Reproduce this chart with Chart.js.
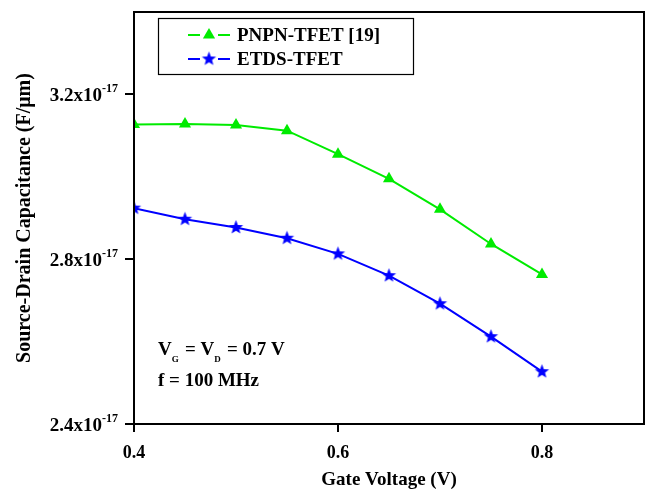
<!DOCTYPE html>
<html>
<head>
<meta charset="utf-8">
<script src="https://cdn.jsdelivr.net/npm/chart.js@4.4.0/dist/chart.umd.min.js"></script>
<style>
  html, body { margin: 0; padding: 0; background: #fff; overflow: hidden; }
  #wrap { width: 646px; height: 490px; }
  canvas { display: block; }
</style>
</head>
<body>
<div id="wrap"><canvas id="chart" width="646" height="490"></canvas></div>
<script>
// gate voltage (V)
const gateVoltage = [0.4, 0.45, 0.5, 0.55, 0.6, 0.65, 0.7, 0.75, 0.8];
// source-drain capacitance, in units of 1e-17 F/um
const pnpnValues = [3.127, 3.128, 3.126, 3.112, 3.055, 2.995, 2.921, 2.837, 2.763];
const etdsValues = [2.924, 2.897, 2.877, 2.851, 2.813, 2.760, 2.692, 2.612, 2.527];
const seriesLabels = ['PNPN-TFET [19]', 'ETDS-TFET'];
const xTicks = [0.4, 0.6, 0.8];
const yTicks = [2.4, 2.8, 3.2];
const yExponent = '-17';

const serif = '"Liberation Serif", "Times New Roman", serif';
const green = 'rgb(0,235,0)';
const blue = '#0000ff';

// filled five point star, Chart.js 'star' is only an asterisk
function makeStar(color) {
    const c = document.createElement('canvas');
    c.width = 17; c.height = 17;
    const g = c.getContext('2d');
    g.fillStyle = color;
    g.beginPath();
    for (let i = 0; i < 10; i++) {
        const r = i % 2 === 0 ? 7.5 : 3.2;
        const a = -Math.PI / 2 + i * Math.PI / 5;
        const px = 8.5 + r * Math.cos(a), py = 8.5 + r * Math.sin(a);
        if (i === 0) g.moveTo(px, py); else g.lineTo(px, py);
    }
    g.closePath();
    g.fill();
    return c;
}
const starImg = makeStar(blue);

const toPoints = vals => vals.map((v, i) => ({ x: gateVoltage[i], y: v }));

const framePlugin = {
    id: 'frame',
    afterDraw(chart) {
        const { ctx, chartArea: a, scales } = chart;
        ctx.save();
        ctx.strokeStyle = '#000';
        ctx.lineWidth = 2;
        ctx.strokeRect(a.left, a.top, a.right - a.left, a.bottom - a.top);

        // y tick labels with superscript exponent
        const y = scales.y;
        yTicks.forEach(v => {
            const py = y.getPixelForValue(v);
            ctx.font = 'bold 12px ' + serif;
            const supW = ctx.measureText(yExponent).width;
            const right = 118;
            ctx.fillStyle = '#000';
            ctx.textBaseline = 'alphabetic';
            ctx.textAlign = 'left';
            ctx.fillText(yExponent, right - supW, py - 2);
            ctx.font = 'bold 19px ' + serif;
            ctx.textAlign = 'right';
            ctx.fillText(v.toFixed(1) + 'x10', right - supW, py + 7);
        });

        // legend box
        ctx.lineWidth = 1.2;
        ctx.strokeRect(158.5, 18.5, 255, 56);
        chart.data.datasets.forEach((ds, i) => {
            const cy = 35 + i * 24;
            ctx.strokeStyle = ds.borderColor;
            ctx.lineWidth = 2;
            ctx.beginPath();
            ctx.moveTo(188, cy); ctx.lineTo(200, cy);
            ctx.moveTo(218, cy); ctx.lineTo(230, cy);
            ctx.stroke();
            if (ds.pointStyle === 'triangle') {
                ctx.fillStyle = ds.pointBackgroundColor;
                ctx.beginPath();
                ctx.moveTo(209, cy - 7);
                ctx.lineTo(209 + 6.1, cy + 3.5);
                ctx.lineTo(209 - 6.1, cy + 3.5);
                ctx.closePath();
                ctx.fill();
            } else {
                ctx.drawImage(starImg, 209 - 8.5, cy - 8.5);
            }
            ctx.fillStyle = '#000';
            ctx.font = 'bold 19px ' + serif;
            ctx.textAlign = 'left';
            ctx.textBaseline = 'middle';
            ctx.fillText(ds.label, 237, cy + 1);
        });

        // bias conditions
        ctx.textBaseline = 'alphabetic';
        ctx.textAlign = 'left';
        let x = 158;
        const big = 'bold 19px ' + serif, small = 'bold 9px ' + serif;
        const parts = [['V', big, 0], ['G', small, 7], [' = V', big, 0], ['D', small, 7], [' = 0.7 V', big, 0]];
        parts.forEach(([t, f, dy]) => {
            ctx.font = f;
            ctx.fillText(t, x, 355 + dy);
            x += ctx.measureText(t).width + (dy ? 1.5 : 0);
        });
        ctx.font = big;
        ctx.fillText('f = 100 MHz', 158, 386);
        ctx.restore();
    }
};

new Chart(document.getElementById('chart'), {
    type: 'line',
    data: {
        datasets: [{
            label: seriesLabels[0],
            data: toPoints(pnpnValues),
            borderColor: green,
            backgroundColor: green,
            pointBackgroundColor: green,
            pointBorderColor: green,
            pointStyle: 'triangle',
            pointRadius: 7,
            pointBorderWidth: 0,
            borderWidth: 2
        }, {
            label: seriesLabels[1],
            data: toPoints(etdsValues),
            borderColor: blue,
            backgroundColor: blue,
            pointBackgroundColor: blue,
            pointStyle: starImg,
            pointRadius: 7,
            borderWidth: 2
        }]
    },
    options: {
        responsive: false,
        animation: false,
        layout: { autoPadding: false, padding: { top: 12, right: 2, left: 0, bottom: 0 } },
        plugins: {
            legend: { display: false },
            tooltip: { enabled: false }
        },
        scales: {
            x: {
                type: 'linear',
                min: 0.4,
                max: 0.9,
                afterFit: s => { s.height = 66; s.paddingRight = 0; s.paddingLeft = 0; },
                afterBuildTicks: s => { s.ticks = xTicks.map(v => ({ value: v })); },
                grid: { drawOnChartArea: false, color: '#000', lineWidth: 2, tickLength: 8 },
                border: { color: '#000', width: 2 },
                ticks: {
                    color: '#000',
                    padding: 11,
                    font: { family: serif, size: 18, weight: 'bold' },
                    callback: v => v.toFixed(1)
                },
                title: {
                    display: true,
                    text: 'Gate Voltage (V)',
                    color: '#000',
                    padding: { bottom: 0 },
                    font: { family: serif, size: 19, weight: 'bold', lineHeight: 1 }
                }
            },
            y: {
                min: 2.4,
                max: 3.4,
                afterFit: s => { s.width = 134; },
                afterBuildTicks: s => { s.ticks = yTicks.map(v => ({ value: v })); },
                grid: { drawOnChartArea: false, color: '#000', lineWidth: 2, tickLength: 9 },
                border: { color: '#000', width: 2 },
                ticks: { display: false },
                title: {
                    display: true,
                    text: 'Source-Drain Capacitance (F/\u03bcm)',
                    color: '#000',
                    padding: { top: 15 },
                    font: { family: serif, size: 20, weight: 'bold', lineHeight: 1 }
                }
            }
        }
    },
    plugins: [framePlugin]
});
</script>
</body>
</html>
